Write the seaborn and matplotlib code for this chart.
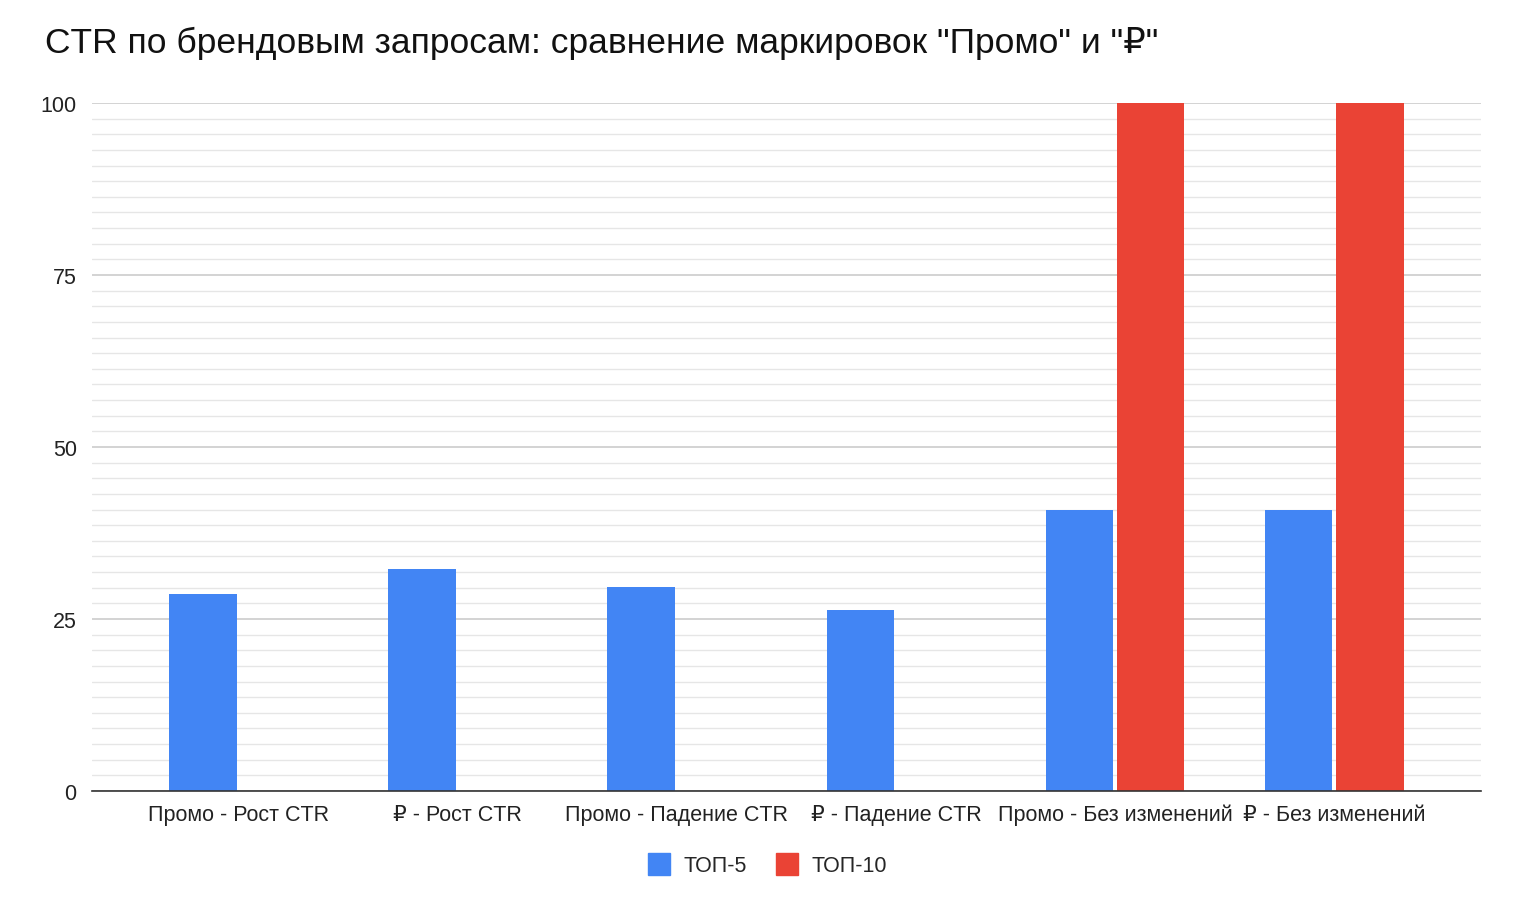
import pandas as pd
import matplotlib
matplotlib.use('Agg')
import matplotlib.pyplot as plt
from matplotlib.ticker import AutoMinorLocator
from matplotlib.lines import Line2D
import seaborn as sns

categories = ['Промо - Рост CTR', '₽ - Рост CTR', 'Промо - Падение CTR',
              '₽ - Падение CTR', 'Промо - Без изменений', '₽ - Без изменений']
top5 = [28.7, 32.3, 29.7, 26.3, 40.8, 40.8]
top10 = [0, 0, 0, 0, 100, 100]
series = ['ТОП-5', 'ТОП-10']
colors = ['#4285F4', '#EA4335']

df = pd.DataFrame({
    'cat': categories * 2,
    'value': top5 + top10,
    'series': [series[0]] * len(categories) + [series[1]] * len(categories),
})

sns.set_style('white')
plt.rcParams['font.family'] = ['Liberation Sans', 'DejaVu Sans']

fig = plt.figure(figsize=(15.25, 9.03), dpi=100)
ax = fig.add_axes([0.0603, 0.1229, 0.9108, 0.7619])

sns.barplot(data=df, x='cat', y='value', hue='series', palette=colors,
            width=0.65, gap=0.05, linewidth=0, saturation=1, ax=ax, legend=False)

ax.set_ylim(0, 100)
ax.set_xlim(-0.67, 5.67)
ax.set_yticks([0, 25, 50, 75, 100])
ax.yaxis.set_minor_locator(AutoMinorLocator(11))
ax.grid(axis='y', which='major', color='#cccccc', linewidth=1.2)
ax.grid(axis='y', which='minor', color='#e6e6e6', linewidth=1.0)
ax.set_axisbelow(True)
for s in ['left', 'right', 'top']:
    ax.spines[s].set_visible(False)
ax.spines['bottom'].set_color('#333333')
ax.spines['bottom'].set_linewidth(1.2)
ax.tick_params(axis='both', which='both', length=0, labelsize=15.5, colors='#222222')
ax.tick_params(axis='y', pad=11)
ax.tick_params(axis='x', pad=9)
ax.set_xlabel('')
ax.set_ylabel('')

fig.text(0.0295, 0.952, 'CTR по брендовым запросам: сравнение маркировок "Промо" и "₽"',
         fontsize=25.5, color='#111111', va='center', ha='left')

handles = [Line2D([], [], marker='s', linestyle='', markersize=16,
                  markerfacecolor=c, markeredgecolor=c) for c in colors]
fig.legend(handles, series, loc='center', bbox_to_anchor=(0.5, 0.040), ncol=2,
           frameon=False, fontsize=15.5, handletextpad=0.15, columnspacing=0.85)

fig.savefig('out.png', dpi=100)
